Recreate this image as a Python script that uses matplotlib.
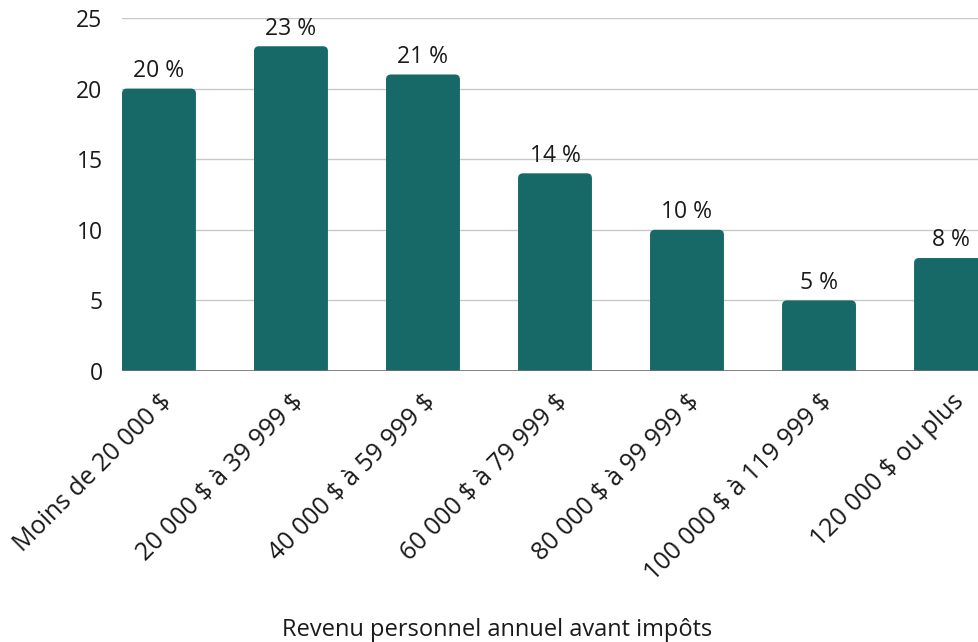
import matplotlib
matplotlib.use("Agg")
import matplotlib.pyplot as plt
from matplotlib.patches import FancyBboxPatch

plt.rcParams["font.family"] = ["Open Sans", "DejaVu Sans"]

categories = [
    "Moins de 20 000 \\$",
    "20 000 \\$ à 39 999 \\$",
    "40 000 \\$ à 59 999 \\$",
    "60 000 \\$ à 79 999 \\$",
    "80 000 \\$ à 99 999 \\$",
    "100 000 \\$ à 119 999 \\$",
    "120 000 \\$ ou plus",
]
values = [20, 23, 21, 14, 10, 5, 8]
value_labels = ["20 %", "23 %", "21 %", "14 %", "10 %", "5 %", "8 %"]
yticks = [0, 5, 10, 15, 20, 25]

BAR_COLOR = "#176968"
TEXT = "#1a1a1a"
W, H = 979, 642

fig = plt.figure(figsize=(W / 100, H / 100), dpi=100)
ax = fig.add_axes([122 / W, (H - 371) / H, 1 - 122 / W, (371 - 18) / H])

x = list(range(len(categories)))
bars = ax.bar(x, values, width=0.56, color=BAR_COLOR, zorder=3)
ax.set_xlim(-0.28, 6.212)
ax.set_ylim(0, 25)

# rounded tops: swap each rectangle for a rounded box that dips below 0 (clipped)
px_x = (979 - 122) / (6.212 + 0.28)
px_y = (371 - 18) / 25
aspect = px_x / px_y
for rect in bars:
    rect.set_visible(False)
    bx, bw, bh = rect.get_x(), rect.get_width(), rect.get_height()
    fb = FancyBboxPatch((bx, -1), bw, bh + 1,
                        boxstyle="round,pad=0,rounding_size=%f" % (5 / px_x),
                        mutation_aspect=aspect, facecolor=BAR_COLOR,
                        edgecolor="none", zorder=3)
    ax.add_patch(fb)

for xi, v, lab in zip(x, values, value_labels):
    ax.annotate(lab, (xi, v), xytext=(0, 4), textcoords="offset points",
                ha="center", va="bottom", fontsize=16.5, color=TEXT,
                zorder=4, annotation_clip=False)

ax.set_yticks(yticks)
ax.set_yticklabels([str(t) for t in yticks], fontsize=16.5, color=TEXT)
ax.tick_params(axis="y", length=0, pad=14)
ax.set_xticks(x)
ax.set_xticklabels(categories, rotation=45, ha="right", rotation_mode="anchor",
                   fontsize=18, color=TEXT)
ax.tick_params(axis="x", length=0, pad=13)

ax.grid(axis="y", color="#c8c8c8", linewidth=1, zorder=0)
ax.axhline(0, color="#707070", linewidth=1.2, zorder=4)
for s in ax.spines.values():
    s.set_visible(False)

fig.text(497 / W, 1 - 636 / H, "Revenu personnel annuel avant impôts",
         ha="center", va="baseline", fontsize=17, color=TEXT)

fig.savefig("out.png", dpi=100)
